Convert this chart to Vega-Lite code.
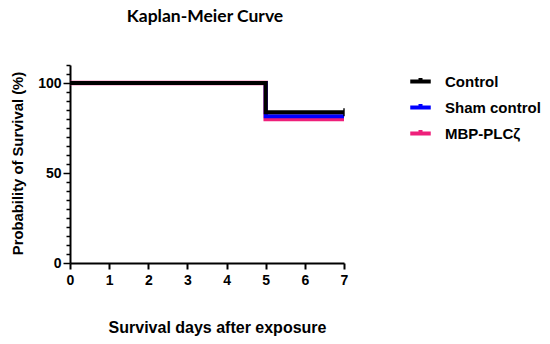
{
  "$schema": "https://vega.github.io/schema/vega-lite/v6.json",
  "width": 274,
  "height": 198,
  "autosize": {"type": "none"},
  "padding": {"left": 70, "top": 65, "right": 206, "bottom": 81},
  "background": "white",
  "config": {"view": {"stroke": null}},
  "title": {
    "text": "Kaplan-Meier Curve",
    "font": "Lato",
    "fontSize": 17.5,
    "fontWeight": "bold",
    "color": "black",
    "anchor": "middle",
    "dx": -2,
    "offset": 39
  },
  "data": {
    "values": [
      {"group": "MBP-PLCζ", "day": 0, "surv": 100},
      {"group": "MBP-PLCζ", "day": 5, "surv": 80},
      {"group": "MBP-PLCζ", "day": 7, "surv": 80},
      {"group": "Sham control", "day": 0, "surv": 100},
      {"group": "Sham control", "day": 5, "surv": 81.5},
      {"group": "Sham control", "day": 7, "surv": 81.5},
      {"group": "Control", "day": 0, "surv": 100},
      {"group": "Control", "day": 5, "surv": 83.8},
      {"group": "Control", "day": 7, "surv": 83.8}
    ]
  },
  "encoding": {
    "x": {
      "field": "day",
      "type": "quantitative",
      "scale": {"domain": [0, 7], "nice": false, "zero": false},
      "axis": {
        "values": [0, 1, 2, 3, 4, 5, 6, 7],
        "title": "Survival days after exposure",
        "titleFont": "Liberation Sans",
        "titleFontSize": 16,
        "titleFontWeight": "bold",
        "titleColor": "black",
        "titlePadding": 32,
        "titleX": 147,
        "titleAnchor": "middle",
        "labelFont": "Liberation Sans",
        "labelFontSize": 14,
        "labelFontWeight": "bold",
        "labelColor": "black",
        "labelPadding": 4,
        "labelFlush": false,
        "domainColor": "black",
        "domainWidth": 2,
        "tickColor": "black",
        "tickWidth": 2,
        "tickSize": 6,
        "grid": false
      }
    },
    "y": {
      "field": "surv",
      "type": "quantitative",
      "scale": {"domain": [0, 110], "nice": false},
      "axis": {
        "values": [0, 5, 10, 15, 20, 25, 30, 35, 40, 45, 50, 55, 60, 65, 70, 75, 80, 85, 90, 95, 100, 105, 110],
        "labelExpr": "datum.value % 50 == 0 ? datum.label : ''",
        "title": "Probability of Survival (%)",
        "titleFont": "Liberation Sans",
        "titleFontSize": 14.8,
        "titleFontWeight": "bold",
        "titleColor": "black",
        "titlePadding": 12,
        "titleY": 98,
        "titleAnchor": "middle",
        "labelFont": "Liberation Sans",
        "labelFontSize": 14,
        "labelFontWeight": "bold",
        "labelColor": "black",
        "labelPadding": 2,
        "labelFlush": false,
        "domainColor": "black",
        "domainWidth": 2,
        "tickColor": "black",
        "tickWidth": 1.5,
        "tickSize": {"condition": {"test": "datum.value % 50 == 0", "value": 7}, "value": 4},
        "grid": false
      }
    },
    "color": {
      "field": "group",
      "type": "nominal",
      "scale": {
        "domain": ["Control", "Sham control", "MBP-PLCζ"],
        "range": ["#000000", "#0000FF", "#EE1F7A"]
      },
      "legend": {
        "title": null,
        "orient": "none",
        "legendX": 338,
        "legendY": 4,
        "symbolType": "M-1,0H1M0,-0.35V0.1",
        "symbolSize": 420,
        "symbolStrokeWidth": 4,
        "symbolOpacity": 1,
        "labelFont": "Liberation Sans",
        "labelFontSize": 15,
        "labelFontWeight": "bold",
        "labelColor": "black",
        "labelOffset": 12,
        "rowPadding": 4
      }
    },
    "order": {"field": "day"}
  },
  "layer": [
    {
      "mark": {"type": "line", "interpolate": "step-after", "strokeWidth": 4.5, "strokeCap": "butt"},
      "transform": [{"filter": "datum.group == 'MBP-PLCζ'"}]
    },
    {
      "mark": {"type": "line", "interpolate": "step-after", "strokeWidth": 4, "strokeCap": "butt"},
      "transform": [{"filter": "datum.group == 'Sham control'"}]
    },
    {
      "mark": {"type": "line", "interpolate": "step-after", "strokeWidth": 4, "strokeCap": "butt"},
      "transform": [{"filter": "datum.group == 'Control'"}]
    },
    {
      "mark": {"type": "tick", "orient": "vertical", "size": 8, "thickness": 2},
      "transform": [{"filter": "datum.day == 7 && datum.group == 'Control'"}]
    }
  ]
}
